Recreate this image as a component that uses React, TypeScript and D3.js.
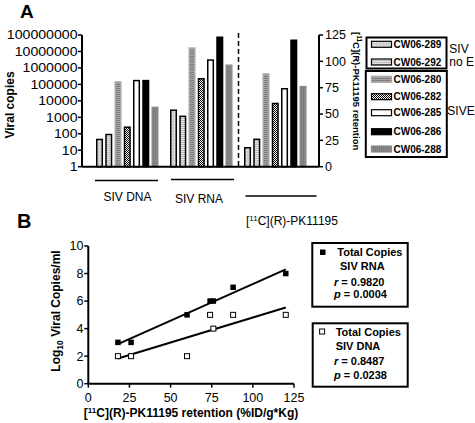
import React from "react";
import * as d3 from "d3";

const animals = ["CW06-289", "CW06-292", "CW06-280", "CW06-282", "CW06-285", "CW06-286", "CW06-288"];
const dnaCopies = [45, 90, 140000, 250, 170000, 170000, 4000];
const rnaCopies = [2700, 1150, 16000000, 220000, 3000000, 73000000, 1450000];
const pkRetention = [18, 26, 88, 60, 74, 120, 76];
const groupLabels = ["SIV DNA", "SIV RNA"];
const logTicks = [1, 10, 100, 1000, 10000, 100000, 1000000, 10000000, 100000000];
const linTicks = [0, 25, 50, 75, 100, 125];

const scatterX = [18, 26, 60, 74, 76, 88, 120];
const scatterRna = [3, 3, 5, 6, 6, 7, 8];
const scatterDna = [2, 2, 2, 5, 4, 5, 5];
const scatterXTicks = [0, 25, 50, 75, 100, 125];
const scatterYTicks = [0, 2, 4, 6, 8, 10];
const rnaStats = ["r = 0.9820", "p = 0.0004"];
const dnaStats = ["r = 0.8487", "p = 0.0238"];

const FONT = "'Liberation Sans', Arial, Helvetica, sans-serif";

const fills = ["url(#p289)", "url(#p292)", "url(#p280)", "url(#p282)", "#ffffff", "#000000", "url(#p288)"];
const strokes = ["#000", "#000", "#a8a8a8", "#000", "#000", "#000", "#8a8a8a"];

function fit(xs: number[], ys: number[]) {
  const mx = d3.mean(xs)!;
  const my = d3.mean(ys)!;
  let sxy = 0, sxx = 0;
  xs.forEach((x, i) => {
    sxy += (x - mx) * (ys[i] - my);
    sxx += (x - mx) * (x - mx);
  });
  const b = sxy / sxx;
  return { a: my - b * mx, b };
}

export default function App() {
  // Panel A scales
  const yLog = d3.scaleLog().domain([1, 1e8]).range([166.7, 35]);
  const yLin = d3.scaleLinear().domain([0, 125]).range([166.7, 35]);
  const xBand = d3.scaleBand<number>().domain(d3.range(23)).range([96.75, 305.8]).paddingInner(0.4);
  const bw = xBand.bandwidth();
  const axL = 82, axR = 319;

  // Panel B scales
  const xs = d3.scaleLinear().domain([0, 125]).range([88.3, 294]);
  const ys = d3.scaleLinear().domain([0, 10]).range([383.7, 246]);
  const rnaFit = fit(scatterX, scatterRna);
  const dnaFit = fit(scatterX, scatterDna);
  const x0 = d3.min(scatterX)!, x1 = d3.max(scatterX)!;

  const bars: JSX.Element[] = [];
  [dnaCopies, rnaCopies].forEach((arr, g) => {
    arr.forEach((v, i) => {
      const x = xBand(g * 8 + i)!;
      const y = yLog(v);
      bars.push(
        <rect key={`b${g}-${i}`} x={x} y={y} width={bw} height={yLog(1) - y}
          fill={fills[i]} stroke={strokes[i]} strokeWidth={1.5} />
      );
    });
  });
  pkRetention.forEach((v, i) => {
    const x = xBand(16 + i)!;
    const y = yLin(v);
    bars.push(
      <rect key={`p${i}`} x={x} y={y} width={bw} height={yLin(0) - y}
        fill={fills[i]} stroke={strokes[i]} strokeWidth={1.5} />
    );
  });

  const legendY = [44.3, 62, 79.3, 96.7, 112.7, 131.7, 149];

  return (
    <svg width={475} height={423} style={{ display: "block", position: "absolute", left: 0, top: 0 }}
      fontFamily={FONT}>
      <defs>
        <pattern id="p289" width={3} height={3} patternUnits="userSpaceOnUse">
          <rect width={3} height={3} fill="#cfcfcf" />
          <rect width={1} height={1} fill="#f2f2f2" />
        </pattern>
        <pattern id="p292" width={2} height={2} patternUnits="userSpaceOnUse">
          <rect width={2} height={1} fill="#bdbdbd" />
          <rect y={1} width={2} height={1} fill="#e4e4e4" />
        </pattern>
        <pattern id="p280" width={2} height={2} patternUnits="userSpaceOnUse">
          <rect width={2} height={1} fill="#7c7c7c" />
          <rect y={1} width={2} height={1} fill="#a6a6a6" />
        </pattern>
        <pattern id="p282" width={2} height={2} patternUnits="userSpaceOnUse">
          <rect width={2} height={2} fill="#ffffff" />
          <rect width={1} height={1} fill="#000" />
          <rect x={1} y={1} width={1} height={1} fill="#000" />
        </pattern>
        <pattern id="p288" width={2} height={2} patternUnits="userSpaceOnUse">
          <rect width={2} height={2} fill="#7a7a7a" />
          <rect width={1} height={1} fill="#9a9a9a" />
        </pattern>
      </defs>

      {/* Panel A */}
      <text x={20} y={18} fontSize={19} fontWeight="bold">A</text>
      <text transform="translate(14,105) rotate(-90)" textAnchor="middle" fontSize={12} fontWeight="bold">Viral copies</text>

      {bars}

      {/* left axis */}
      <line x1={axL} x2={axL} y1={yLog(1e8)} y2={yLog(1)} stroke="#000" strokeWidth={2} />
      {logTicks.map((t) => {
        const label = String(t);
        return (
          <g key={`lt${t}`}>
            <line x1={axL - 4} x2={axL} y1={yLog(t)} y2={yLog(t)} stroke="#000" strokeWidth={1.5} />
            <text x={77.5} y={yLog(t)} dy="0.35em" textAnchor="end" fontSize={12.5}
              textLength={label.length * 7.85} lengthAdjust="spacingAndGlyphs">{label}</text>
          </g>
        );
      })}
      {/* bottom axis */}
      <line x1={axL} x2={axR} y1={yLog(1)} y2={yLog(1)} stroke="#000" strokeWidth={2} />
      {/* right axis */}
      <line x1={axR} x2={axR} y1={yLin(125)} y2={yLin(0)} stroke="#000" strokeWidth={2} />
      {linTicks.map((t) => (
        <g key={`rt${t}`}>
          <line x1={axR} x2={axR + 4} y1={yLin(t)} y2={yLin(t)} stroke="#000" strokeWidth={1.5} />
          <text x={axR + 6} y={yLin(t)} dy="0.35em" fontSize={12.5}>{t}</text>
        </g>
      ))}
      <text transform="translate(353,32) rotate(90)" fontSize={9.5} fontWeight="bold">
        [<tspan dy={-3.5} fontSize={6.5}>11</tspan><tspan dy={3.5}>C](R)-PK11195 retention</tspan>
      </text>

      {/* dashed separator */}
      <line x1={238.5} x2={238.5} y1={33} y2={166} stroke="#000" strokeWidth={1.5} strokeDasharray="5,3" />

      {/* group underlines */}
      <line x1={95} x2={158} y1={180.5} y2={180.5} stroke="#000" strokeWidth={1.6} />
      <line x1={171} x2={234} y1={179.5} y2={179.5} stroke="#000" strokeWidth={1.6} />
      <line x1={245.5} x2={316.5} y1={196} y2={196} stroke="#000" strokeWidth={1.6} />
      <text x={127.5} y={201} textAnchor="middle" fontSize={12}>{groupLabels[0]}</text>
      <text x={199} y={202.5} textAnchor="middle" fontSize={12}>{groupLabels[1]}</text>
      <text x={246} y={225} fontSize={12}>
        [<tspan dy={-4.5} fontSize={8}>11</tspan><tspan dy={4.5}>C](R)-PK11195</tspan>
      </text>

      {/* legend A */}
      <rect x={366.5} y={37.5} width={80} height={31} fill="none" stroke="#000" strokeWidth={2} />
      <rect x={365.8} y={71} width={81} height={86} fill="none" stroke="#000" strokeWidth={2} />
      {animals.map((a, i) => (
        <g key={`lg${a}`}>
          <rect x={371.5} y={legendY[i] - 3} width={20} height={6} fill={fills[i]}
            stroke={strokes[i]} strokeWidth={1.2} />
          <text x={393.5} y={legendY[i]} dy="0.35em" fontSize={10} fontWeight="bold">{a}</text>
        </g>
      ))}
      <text x={449.3} y={48.3} dy="0.35em" fontSize={12}>SIV</text>
      <text x={449.3} y={62} dy="0.35em" fontSize={12}>no E</text>
      <text x={447.3} y={111} dy="0.35em" fontSize={12}>SIVE</text>

      {/* Panel B */}
      <text x={17} y={228} fontSize={20} fontWeight="bold">B</text>
      <text transform="translate(60,311) rotate(-90)" textAnchor="middle" fontSize={12} fontWeight="bold">
        Log<tspan dy={3} fontSize={8.5}>10</tspan><tspan dy={-3}> Viral Copies/ml</tspan>
      </text>
      <line x1={xs(0)} x2={xs(0)} y1={ys(10)} y2={ys(0)} stroke="#000" strokeWidth={2} />
      <line x1={xs(0)} x2={xs(125)} y1={ys(0)} y2={ys(0)} stroke="#000" strokeWidth={2} />
      {scatterYTicks.map((t) => (
        <g key={`sy${t}`}>
          <line x1={xs(0) - 4} x2={xs(0)} y1={ys(t)} y2={ys(t)} stroke="#000" strokeWidth={1.5} />
          <text x={83.5} y={ys(t)} dy="0.35em" textAnchor="end" fontSize={12.5}>{t}</text>
        </g>
      ))}
      {scatterXTicks.map((t) => (
        <g key={`sx${t}`}>
          <line x1={xs(t)} x2={xs(t)} y1={ys(0)} y2={ys(0) + 4} stroke="#000" strokeWidth={1.5} />
          <text x={xs(t)} y={401.5} textAnchor="middle" fontSize={12.5}>{t}</text>
        </g>
      ))}
      <text x={191} y={417} textAnchor="middle" fontSize={12} fontWeight="bold">
        [<tspan dy={-4.5} fontSize={8}>11</tspan><tspan dy={4.5}>C](R)-PK11195 retention (%ID/g*Kg)</tspan>
      </text>

      <line x1={xs(x0)} x2={xs(x1)} y1={ys(rnaFit.a + rnaFit.b * x0)} y2={ys(rnaFit.a + rnaFit.b * x1)}
        stroke="#000" strokeWidth={2} />
      <line x1={xs(x0)} x2={xs(x1)} y1={ys(dnaFit.a + dnaFit.b * x0)} y2={ys(dnaFit.a + dnaFit.b * x1)}
        stroke="#000" strokeWidth={2} />
      {scatterX.map((x, i) => (
        <rect key={`sr${i}`} x={xs(x) - 2.75} y={ys(scatterRna[i]) - 2.75} width={5.5} height={5.5} fill="#000" />
      ))}
      {scatterX.map((x, i) => (
        <rect key={`sd${i}`} x={xs(x) - 2.5} y={ys(scatterDna[i]) - 2.5} width={5} height={5}
          fill="#fff" stroke="#000" strokeWidth={1} />
      ))}

      {/* legend B */}
      <rect x={312.3} y={243} width={95.4} height={63.7} fill="none" stroke="#000" strokeWidth={2} />
      <rect x={320} y={249.5} width={5.5} height={5.5} fill="#000" />
      <text x={337.3} y={252.3} dy="0.35em" fontSize={11} fontWeight="bold">Total Copies</text>
      <text x={340} y={265.7} dy="0.35em" fontSize={11} fontWeight="bold">SIV RNA</text>
      {rnaStats.map((s, i) => (
        <text key={`rs${i}`} x={334} y={i === 0 ? 281.7 : 294.3} dy="0.35em" fontSize={11} fontWeight="bold">
          <tspan fontStyle="italic">{s.slice(0, 1)}</tspan>{s.slice(1)}
        </text>
      ))}
      <rect x={312.7} y={323.3} width={95} height={63.4} fill="none" stroke="#000" strokeWidth={2} />
      <rect x={319.6} y={329} width={5} height={5} fill="#fff" stroke="#000" strokeWidth={1} />
      <text x={335.7} y={331.7} dy="0.35em" fontSize={11} fontWeight="bold">Total Copies</text>
      <text x={335.7} y={345.7} dy="0.35em" fontSize={11} fontWeight="bold">SIV DNA</text>
      {dnaStats.map((s, i) => (
        <text key={`ds${i}`} x={334} y={i === 0 ? 361 : 375} dy="0.35em" fontSize={11} fontWeight="bold">
          <tspan fontStyle="italic">{s.slice(0, 1)}</tspan>{s.slice(1)}
        </text>
      ))}
    </svg>
  );
}
